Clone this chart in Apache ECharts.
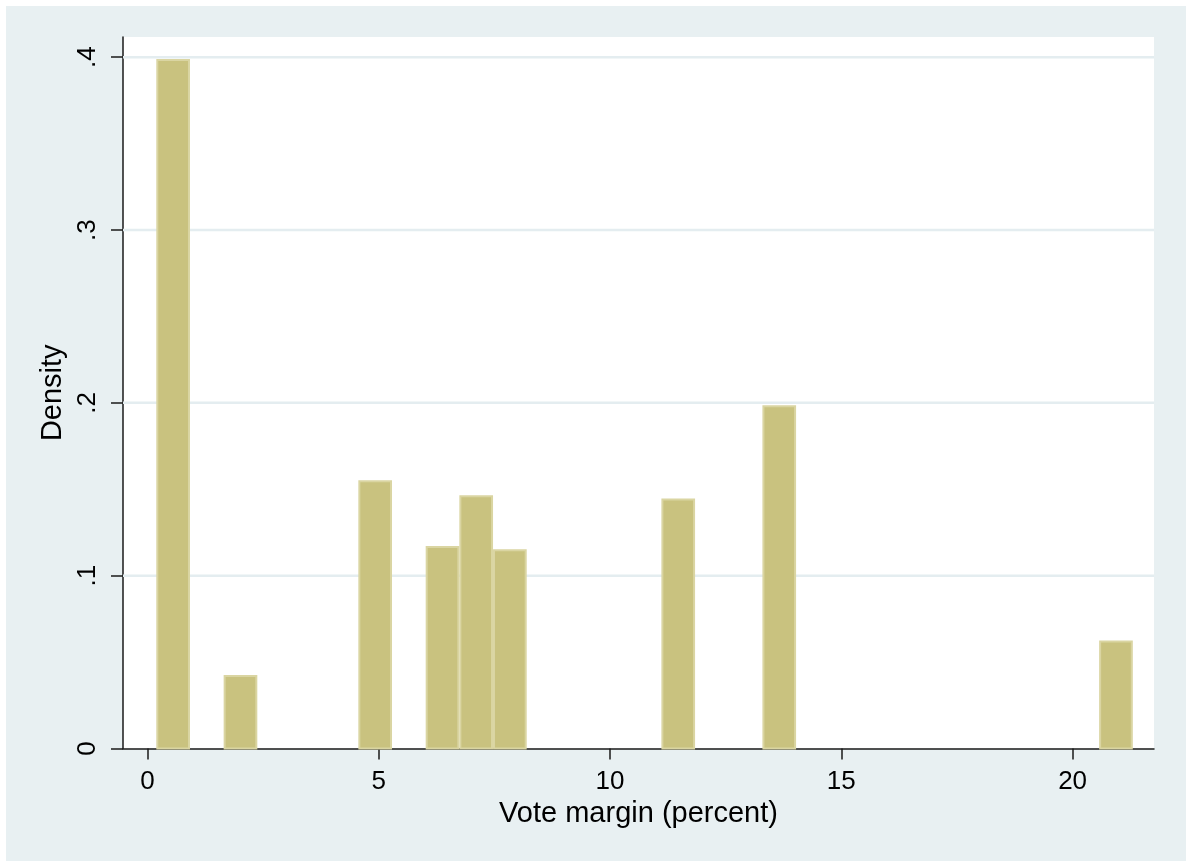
<!DOCTYPE html>
<html>
<head>
<meta charset="utf-8">
<script src="https://cdn.jsdelivr.net/npm/echarts@6/dist/echarts.min.js"></script>
<style>
  html, body { margin: 0; padding: 0; background: #ffffff; }
  #chart { position: absolute; left: 6px; top: 6px; width: 1180px; height: 855px; }
</style>
</head>
<body>
<div id="chart"></div>
<script>
// Histogram of vote margins: left edge of each non-empty bin and its density
const binStart = [0.19, 1.646, 4.558, 6.014, 6.742, 7.47, 11.11, 13.294, 20.574];
const binWidth = 0.728;
const density  = [0.399, 0.0425, 0.1552, 0.1172, 0.1466, 0.1153, 0.1447, 0.1986, 0.0625];

const xTicks = [0, 5, 10, 15, 20];
const yTicks = [0, 0.1, 0.2, 0.3, 0.4];
const yTickLabels = ['0', '.1', '.2', '.3', '.4'];

const xTitle = 'Vote margin (percent)';
const yTitle = 'Density';

const bars = binStart.map((s, i) => [s, s + binWidth, density[i]]);

const chart = echarts.init(document.getElementById('chart'), null, { renderer: 'canvas' });

const axisColor = '#1a1a1a';
const font = '"Liberation Sans", Arial, sans-serif';

chart.setOption({
  backgroundColor: '#e8f0f2',
  animation: false,
  grid: {
    left: 117, right: 32, top: 31, bottom: 112.5,
    show: true, backgroundColor: '#ffffff', borderWidth: 0
  },
  xAxis: {
    type: 'value',
    min: -0.53, max: 21.76,
    name: xTitle,
    nameLocation: 'middle',
    nameGap: 46,
    nameTextStyle: { fontFamily: font, fontSize: 29, color: '#000' },
    axisLine: { show: true, onZero: false, lineStyle: { color: axisColor, width: 1.5 } },
    axisTick: { show: true, length: 11, customValues: xTicks, lineStyle: { color: axisColor, width: 1.5 } },
    axisLabel: { customValues: xTicks, margin: 20, fontFamily: font, fontSize: 26, color: '#000' },
    splitLine: { show: false }
  },
  yAxis: {
    type: 'value',
    min: 0, max: 0.4117,
    name: yTitle,
    nameLocation: 'middle',
    nameRotate: 90,
    nameGap: 52,
    nameTextStyle: { fontFamily: font, fontSize: 29, color: '#000' },
    axisLine: { show: true, onZero: false, lineStyle: { color: axisColor, width: 1.5 } },
    axisTick: { show: true, length: 12, customValues: yTicks, lineStyle: { color: axisColor, width: 1.5 } },
    axisLabel: {
      customValues: yTicks,
      rotate: 90,
      margin: 22,
      fontFamily: font, fontSize: 26, color: '#000',
      formatter: v => {
        const i = yTicks.findIndex(t => Math.abs(t - v) < 1e-9);
        return i >= 0 ? yTickLabels[i] : '';
      }
    },
    splitLine: { show: false }
  },
  series: [
    {
      // horizontal grid lines at the labelled densities above zero
      type: 'custom',
      silent: true,
      z: 1,
      data: yTicks.filter(v => v > 0).map(v => [v]),
      renderItem: (params, api) => {
        const y = api.coord([0, api.value(0)])[1];
        const cs = params.coordSys;
        return {
          type: 'line',
          shape: { x1: cs.x, y1: y, x2: cs.x + cs.width, y2: y },
          style: { stroke: '#e4edf0', lineWidth: 2.5 }
        };
      }
    },
    {
      type: 'custom',
      z: 2,
      data: bars,
      encode: { x: [0, 1], y: 2 },
      renderItem: (params, api) => {
        const p0 = api.coord([api.value(0), api.value(2)]);
        const p1 = api.coord([api.value(1), 0]);
        return {
          type: 'rect',
          shape: { x: p0[0] + 1, y: p0[1] + 1, width: p1[0] - p0[0] - 2, height: p1[1] - p0[1] - 1 },
          style: { fill: '#c9c27f', stroke: '#dad5a2', lineWidth: 2 }
        };
      }
    }
  ]
});
</script>
</body>
</html>
